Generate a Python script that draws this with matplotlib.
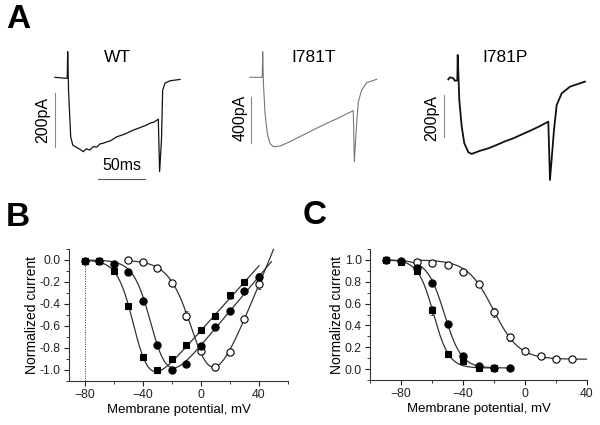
import numpy as np
import matplotlib
matplotlib.use('Agg')
import matplotlib.pyplot as plt
from matplotlib.ticker import MultipleLocator

plt.rcParams['font.family'] = ['Liberation Sans', 'DejaVu Sans']

# ---- panel A: current traces (time in ms, current in pA) ----
wt_t = [-13.6, -1.1, -0.5, 0.0, 0.9, 3.2, 5.4, 9.0, 13.2, 16.7, 20.0, 23.5, 27.4, 31.0, 34.5,
        38.2, 42.0, 46.0, 52.5, 57.0, 61.0, 66.0, 70.3, 75.0, 79.5, 84.0, 88.2, 92.5, 97.1,
        98.5, 100.5, 101.8, 104.3, 109.7, 120.4]
wt_i = [0, -4, -3, 96, -48, -223, -254, -262, -270, -279, -268, -273, -260, -262, -250,
        -247, -242, -238, -223, -218, -213, -205, -198, -192, -186, -180, -172, -168, -157,
        -354, -235, -48, -22, -13, -8]

t781t_t = [-13.6, -2.1, -0.5, 0.0, 0.8, 2.5, 4.9, 7.8, 11.4, 18.5, 29.3, 38.0, 47.2, 56.0, 65.0,
           74.0, 82.9, 90.0, 97.1, 98.2, 100.7, 102.5, 106.1, 111.5, 122.2]
t781t_i = [0, 0, 0, 219, -60, -308, -480, -566, -595, -589, -552, -515, -480, -443, -409,
           -375, -343, -313, -286, -723, -394, -209, -109, -46, -17]

p781p_t = [-10.1, -8.3, -4.7, -2.9, -0.4, 0.0, 1.7, 4.3, 7.1, 11.4, 15.0, 23.9, 33.0, 41.8, 50.5,
           59.6, 68.5, 77.5, 87.0, 97.1, 98.9, 103.2, 106.1, 111.5, 120.4, 136.4]
p781p_i = [-5, 5, 0, -12, -10, 112, -104, -232, -312, -355, -363, -348, -336, -320, -303,
           -288, -270, -252, -232, -208, -488, -248, -128, -72, -40, -16]

# ---- panel B: I-V relation ----
iv_sq_v = [-80, -70, -60, -50, -40, -30, -20, -10, 0, 10, 20, 30]
iv_sq = [-0.01, -0.01, -0.10, -0.415, -0.88, -1.0, -0.90, -0.776, -0.64, -0.51, -0.32, -0.20]
iv_sq_err = [0.0, 0.0, 0.02, 0.02, 0.03, 0.01, 0.03, 0.02, 0.02, 0.02, 0.03, 0.03]
iv_ci_v = [-80, -70, -60, -50, -40, -30, -20, -10, 0, 10, 20, 30, 40]
iv_ci = [-0.01, -0.01, -0.04, -0.11, -0.37, -0.77, -1.0, -0.945, -0.78, -0.61, -0.46, -0.28, -0.15]
iv_ci_err = [0.0, 0.0, 0.01, 0.01, 0.02, 0.02, 0.01, 0.02, 0.02, 0.02, 0.02, 0.03, 0.03]
iv_op_v = [-50, -40, -30, -20, -10, 0, 10, 20, 30, 40]
iv_op = [0.0, -0.02, -0.076, -0.21, -0.506, -0.83, -0.97, -0.84, -0.54, -0.22]
iv_op_err = [0.0, 0.01, 0.01, 0.02, 0.04, 0.02, 0.01, 0.02, 0.02, 0.04]

# Boltzmann x linear driving force fits: (G, Erev, Vhalf, k, Vstart, Vend)
iv_fit_sq = (0.0147, 43.6, -45.2, 5.65, -80, 40)
iv_fit_ci = (0.0157, 49.5, -33.0, 6.0, -80, 48.5)
iv_fit_op = (0.032, 47.0, -2.0, 7.9, -50, 50)

# ---- panel C: steady-state inactivation ----
ss_sq_v = [-90, -80, -70, -60, -50, -40, -30, -20]
ss_sq = [1.0, 0.985, 0.90, 0.54, 0.14, 0.07, 0.01, 0.01]
ss_sq_err = [0.0, 0.01, 0.03, 0.04, 0.03, 0.02, 0.01, 0.01]
ss_ci_v = [-90, -80, -70, -60, -50, -40, -30, -20, -10]
ss_ci = [1.0, 0.99, 0.93, 0.79, 0.41, 0.12, 0.03, 0.01, 0.01]
ss_ci_err = [0.0, 0.01, 0.02, 0.02, 0.02, 0.02, 0.01, 0.01, 0.0]
ss_op_v = [-70, -60, -50, -40, -30, -20, -10, 0, 10, 20, 30]
ss_op = [0.98, 0.975, 0.95, 0.89, 0.78, 0.52, 0.29, 0.165, 0.12, 0.09, 0.09]
ss_op_err = [0.01, 0.01, 0.01, 0.02, 0.03, 0.04, 0.03, 0.02, 0.01, 0.02, 0.01]

# Boltzmann fits: (A, Vhalf, k, Vstart, Vend)
ss_fit_sq = (0.01, -59.0, 5.0, -90, -20)
ss_fit_ci = (0.01, -52.0, 5.5, -90, -10)
ss_fit_op = (0.09, -20.5, 8.3, -70, 40)

W, H = 600.0, 425.0


def trace_axes(fig, box, t0, i0, px_ms, px_pa):
    x0, y0, x1, y1 = box
    ax = fig.add_axes([x0 / W, 1 - y1 / H, (x1 - x0) / W, (y1 - y0) / H])
    ax.set_xlim((x0 - t0) / px_ms, (x1 - t0) / px_ms)
    ax.set_ylim(-(y1 - i0) / px_pa, -(y0 - i0) / px_pa)
    ax.axis('off')
    return ax


def iv_curve(p):
    g, erev, vh, k, va, vb = p
    v = np.linspace(va, vb, 300)
    return v, g * (v - erev) / (1 + np.exp((vh - v) / k))


def ss_curve(p):
    a, vh, k, va, vb = p
    v = np.linspace(va, vb, 300)
    return v, a + (1 - a) / (1 + np.exp((v - vh) / k))


def style_axes(ax):
    for s in ['top', 'right']:
        ax.spines[s].set_visible(False)
    for s in ['left', 'bottom']:
        ax.spines[s].set_linewidth(0.8)
        ax.spines[s].set_color('#333333')
    ax.tick_params(which='major', direction='out', length=3.5, width=0.8, labelsize=8.8,
                   colors='#222222', pad=2.5)
    ax.tick_params(which='minor', direction='out', length=2, width=0.7, colors='#333333')
    ax.set_xlabel('Membrane potential, mV', fontsize=9.5, labelpad=2)
    ax.set_ylabel('Normalized current', fontsize=10, labelpad=0.5)


def plot_points(ax, v, y, err, marker, face):
    ax.errorbar(v, y, yerr=err, fmt='none', ecolor='#444444', elinewidth=0.7, capsize=1.2,
                capthick=0.6, zorder=3)
    size = 4.5 if marker == 's' else 5.2
    ax.plot(v, y, ls='none', marker=marker, ms=size, mfc=face, mec='black', mew=0.8, zorder=4)


fig = plt.figure(figsize=(6, 4.25), dpi=100)

# panel A
ms_px = 0.933
ax_wt = trace_axes(fig, (30, 40, 200, 195), 67.7, 77.3, ms_px, 0.2667)
ax_wt.plot(wt_t, wt_i, color='#111111', lw=0.9)
ax_wt.plot([-13.6, -13.6], [-60, -260], color='#888888', lw=0.8)
ax_wt.plot([32.8, 82.8], [-381, -381], color='#555555', lw=0.8)

ax_t = trace_axes(fig, (225, 40, 400, 195), 262.7, 77.3, ms_px, 0.1167)
ax_t.plot(t781t_t, t781t_i, color='#777777', lw=0.8)
ax_t.plot([-12.9, -12.9], [-166, -566], color='#888888', lw=0.8)

ax_p = trace_axes(fig, (420, 40, 595, 195), 457.7, 78.3, ms_px, 0.2083)
ax_p.plot(p781p_t, p781p_i, color='#111111', lw=1.3)
ax_p.plot([-14.7, -14.7], [-80, -280], color='#888888', lw=0.8)

fig.text(117.5 / W, 1 - 58 / H, 'WT', ha='center', va='center', fontsize=12.5)
fig.text(314 / W, 1 - 58 / H, 'I781T', ha='center', va='center', fontsize=12.5)
fig.text(505 / W, 1 - 58 / H, 'I781P', ha='center', va='center', fontsize=12.5)
fig.text(43 / W, 1 - 120 / H, '200pA', ha='center', va='center', rotation=90, fontsize=11.5)
fig.text(240 / W, 1 - 118 / H, '400pA', ha='center', va='center', rotation=90, fontsize=11.5)
fig.text(432 / W, 1 - 118 / H, '200pA', ha='center', va='center', rotation=90, fontsize=11.5)
fig.text(121.7 / W, 1 - 165.7 / H, '50ms', ha='center', va='center', fontsize=11.5)

# panel B
axb = fig.add_axes([69 / W, 1 - 381 / H, 219 / W, 132 / H])
axb.set_xlim(-91, 60)
axb.set_ylim(-1.1, 0.1)
axb.set_xticks([-80, -40, 0, 40])
axb.xaxis.set_minor_locator(MultipleLocator(20))
axb.set_yticks([-1.0, -0.8, -0.6, -0.4, -0.2, 0.0])
axb.yaxis.set_minor_locator(MultipleLocator(0.1))
axb.axvline(-80, ymin=0, ymax=1.1 / 1.2, color='#333333', lw=0.7, ls=(0, (1, 1.5)))
for p in (iv_fit_sq, iv_fit_ci, iv_fit_op):
    v, y = iv_curve(p)
    axb.plot(v, y, color='#333333', lw=0.9, zorder=2, clip_on=False)
plot_points(axb, iv_op_v, iv_op, iv_op_err, 'o', 'white')
plot_points(axb, iv_ci_v, iv_ci, iv_ci_err, 'o', 'black')
plot_points(axb, iv_sq_v, iv_sq, iv_sq_err, 's', 'black')
style_axes(axb)
axb.set_yticklabels(['-1.0', '-0.8', '-0.6', '-0.4', '-0.2', '0.0'])

# panel C
axc = fig.add_axes([370 / W, 1 - 380 / H, 217 / W, 131 / H])
axc.set_xlim(-100, 40)
axc.set_ylim(-0.1, 1.1)
axc.set_xticks([-80, -40, 0, 40])
axc.xaxis.set_minor_locator(MultipleLocator(20))
axc.set_yticks([0.0, 0.2, 0.4, 0.6, 0.8, 1.0])
axc.yaxis.set_minor_locator(MultipleLocator(0.1))
for p in (ss_fit_sq, ss_fit_ci, ss_fit_op):
    v, y = ss_curve(p)
    axc.plot(v, y, color='#333333', lw=0.9, zorder=2)
plot_points(axc, ss_op_v, ss_op, ss_op_err, 'o', 'white')
plot_points(axc, ss_ci_v, ss_ci, ss_ci_err, 'o', 'black')
plot_points(axc, ss_sq_v, ss_sq, ss_sq_err, 's', 'black')
style_axes(axc)
axc.set_yticklabels(['0.0', '0.2', '0.4', '0.6', '0.8', '1.0'])

# panel letters
fig.text(18 / W, 1 - 20 / H, 'A', ha='center', va='center', fontsize=24, fontweight='bold')
fig.text(18 / W, 1 - 218 / H, 'B', ha='center', va='center', fontsize=24, fontweight='bold')
fig.text(315 / W, 1 - 215 / H, 'C', ha='center', va='center', fontsize=24, fontweight='bold')

fig.savefig('out.png', dpi=100)
